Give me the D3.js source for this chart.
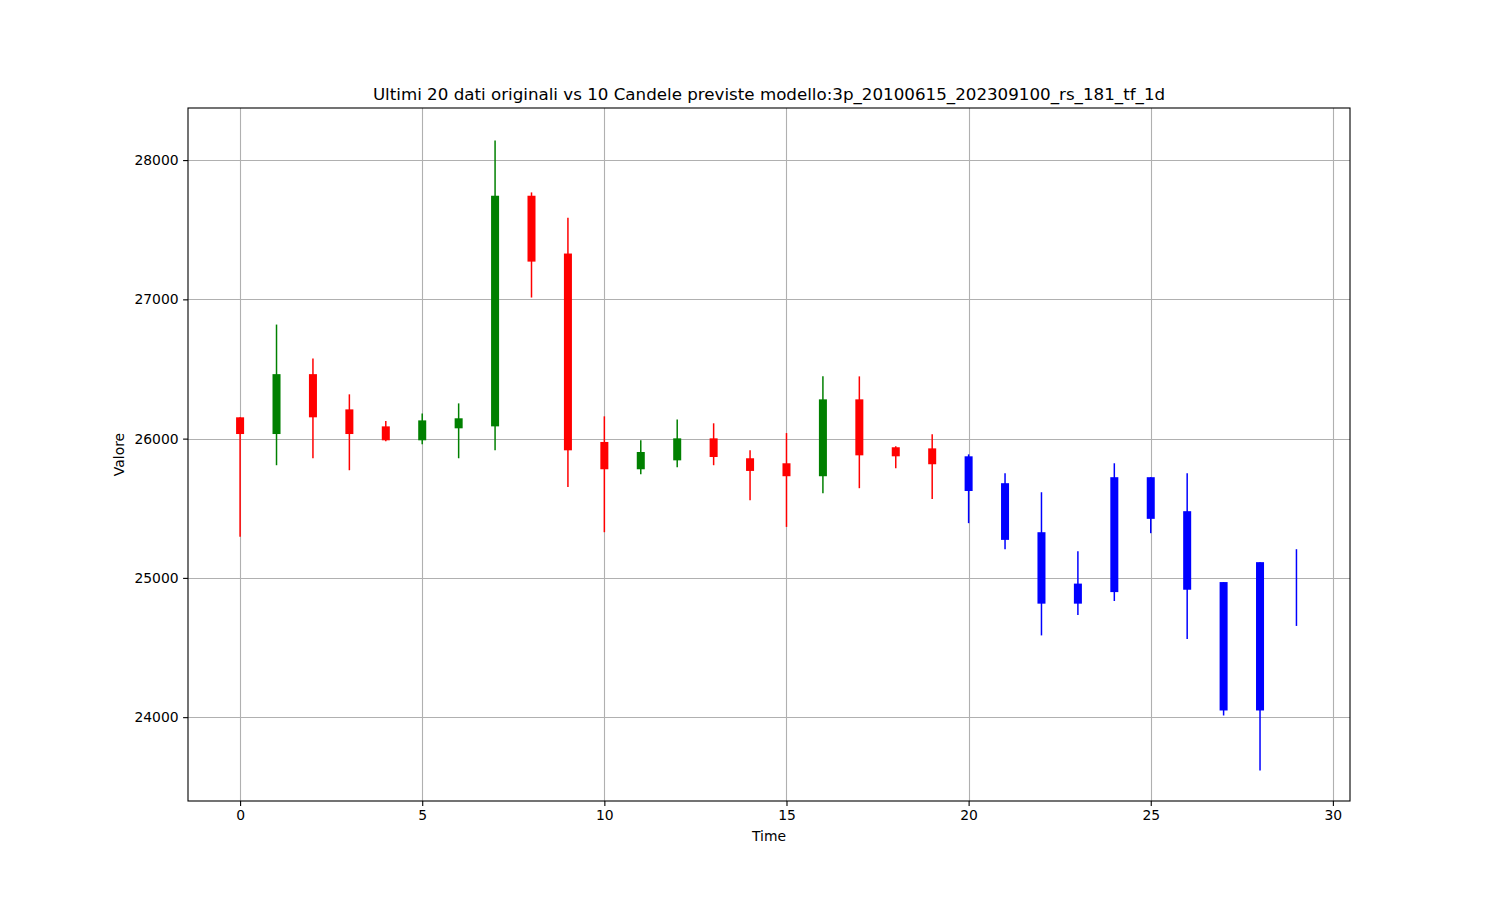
<!DOCTYPE html>
<html>
<head>
<meta charset="utf-8">
<script src="https://cdn.jsdelivr.net/npm/d3@7"></script>
<style>
  html, body { margin: 0; padding: 0; background: #fff; }
  svg text { font-family: "DejaVu Sans", sans-serif; }
</style>
</head>
<body>
<svg id="chart" width="1500" height="900"></svg>
<script>
// ---- data ----
const times = d3.range(0, 30);
const opens  = [26153, 26033, 26463, 26210, 26088, 25988, 26074, 26088, 27744, 27329,
                25976, 25780, 25844, 26002, 25859, 25823, 25730, 26282, 25938, 25930,
                25873, 25680, 25328, 24959, 24898, 25723, 25479, 24970, 24048, 24930];
const closes = [26033, 26463, 26153, 26033, 25988, 26131, 26146, 27744, 27271, 25916,
                25780, 25904, 26002, 25868, 25768, 25730, 26282, 25880, 25873, 25816,
                25624, 25273, 24815, 24815, 25723, 25424, 24915, 24048, 25113, 24930];
const highs  = [26153, 26819, 26576, 26318, 26126, 26181, 26253, 28140, 27768, 27586,
                26160, 25988, 26138, 26110, 25916, 26040, 26447, 26447, 25945, 26031,
                25887, 25751, 25615, 25192, 25823, 25723, 25751, 24970, 25113, 25206];
const lows   = [25295, 25809, 25859, 25773, 25981, 25959, 25859, 25916, 27013, 25653,
                25328, 25744, 25794, 25809, 25558, 25366, 25608, 25644, 25787, 25566,
                25393, 25206, 24587, 24733, 24834, 25321, 24561, 24012, 23617, 24655];
const nOriginal = 20;
const xTicks = [0, 5, 10, 15, 20, 25, 30];
const yTicks = [24000, 25000, 26000, 27000, 28000];
const titleText = "Ultimi 20 dati originali vs 10 Candele previste modello:3p_20100615_202309100_rs_181_tf_1d";

// ---- layout ----
const svg = d3.select("#chart");
const L = 188, R = 1350, T = 108, B = 801;
const x = d3.scaleLinear().domain([-1.43, 30.47]).range([L, R]);
const y = d3.scaleLinear().domain([23398, 28374]).range([B, T]);

// grid
const g = svg.append("g");
g.selectAll("line.vg").data(xTicks).join("line")
  .attr("x1", d => Math.round(x(d)) + 0.5).attr("x2", d => Math.round(x(d)) + 0.5)
  .attr("y1", T).attr("y2", B)
  .attr("stroke", "#b0b0b0").attr("stroke-width", 1.1);
g.selectAll("line.hg").data(yTicks).join("line")
  .attr("y1", d => Math.round(y(d)) + 0.5).attr("y2", d => Math.round(y(d)) + 0.5)
  .attr("x1", L).attr("x2", R)
  .attr("stroke", "#b0b0b0").attr("stroke-width", 1.1);

// candles
const data = times.map((t, i) => ({t, o: opens[i], c: closes[i], h: highs[i], l: lows[i], i}));
const colorOf = d => d.i >= nOriginal ? "#0000ff" : (d.c >= d.o ? "#008000" : "#ff0000");
const bw = 0.22;
const cg = svg.append("g");
cg.selectAll("line.wick").data(data).join("line")
  .attr("x1", d => x(d.t)).attr("x2", d => x(d.t))
  .attr("y1", d => y(d.h)).attr("y2", d => y(d.l))
  .attr("stroke", colorOf).attr("stroke-width", 1.5);
cg.selectAll("rect.body").data(data).join("rect")
  .attr("x", d => x(d.t - bw / 2))
  .attr("width", d => x(bw) - x(0))
  .attr("y", d => y(Math.max(d.o, d.c)))
  .attr("height", d => Math.abs(y(d.o) - y(d.c)))
  .attr("fill", colorOf);

// axes
const xAxis = d3.axisBottom(x).tickValues(xTicks).tickSize(4.9).tickPadding(4.5).tickFormat(d3.format("d"));
const yAxis = d3.axisLeft(y).tickValues(yTicks).tickSize(4.9).tickPadding(4.5).tickFormat(d3.format("d"));
const xa = svg.append("g").attr("transform", `translate(0,${B})`).call(xAxis);
const ya = svg.append("g").attr("transform", `translate(${L},0)`).call(yAxis);
[xa, ya].forEach(a => {
  a.select(".domain").remove();
  a.selectAll(".tick line").attr("stroke", "#000").attr("stroke-width", 1.1);
  a.selectAll(".tick text").attr("fill", "#000").style("font-size", "13.9px").style("font-family", "DejaVu Sans, sans-serif");
});

// spines
svg.append("rect").attr("x", L).attr("y", T).attr("width", R - L).attr("height", B - T)
  .attr("fill", "none").attr("stroke", "#000").attr("stroke-width", 1.1);

// labels
svg.append("text").attr("x", (L + R) / 2).attr("y", 100).attr("text-anchor", "middle")
  .style("font-size", "16.7px").attr("fill", "#000").text(titleText);
svg.append("text").attr("x", (L + R) / 2).attr("y", 841).attr("text-anchor", "middle")
  .style("font-size", "13.9px").attr("fill", "#000").text("Time");
svg.append("text").attr("transform", `translate(124,${(T + B) / 2}) rotate(-90)`).attr("text-anchor", "middle")
  .style("font-size", "13.9px").attr("fill", "#000").text("Valore");
</script>
</body>
</html>
